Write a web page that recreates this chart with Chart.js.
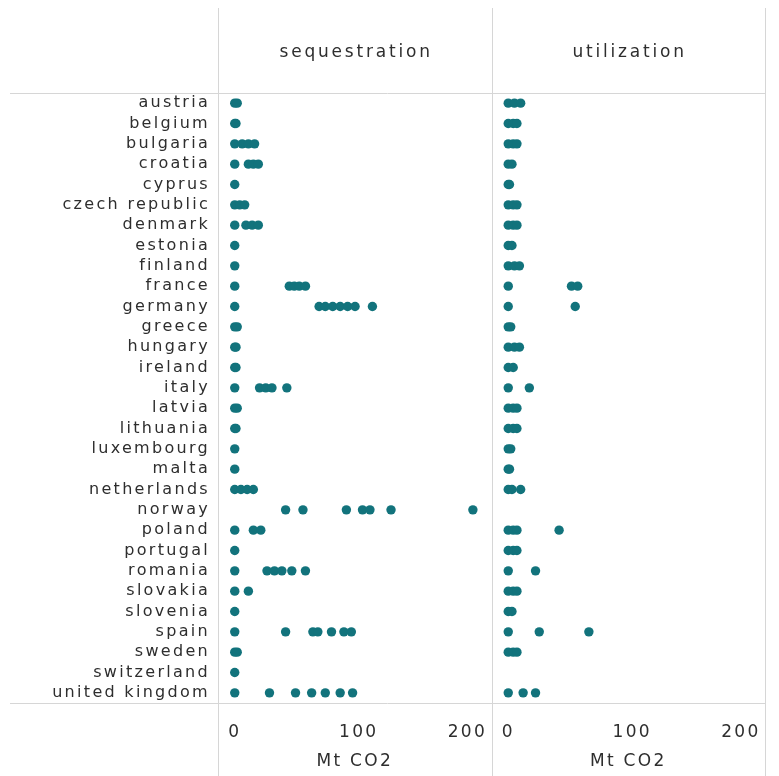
<!DOCTYPE html>
<html>
<head>
<meta charset="utf-8">
<script src="https://cdn.jsdelivr.net/npm/chart.js@4"></script>
<style>
  html, body { margin: 0; padding: 0; background: #ffffff; }
  #wrap { width: 779px; height: 776px; }
</style>
</head>
<body>
<div id="wrap"><canvas id="chart" width="779" height="776"></canvas></div>
<script>
// Countries, top to bottom
const countries = [
  'austria', 'belgium', 'bulgaria', 'croatia', 'cyprus', 'czech republic',
  'denmark', 'estonia', 'finland', 'france', 'germany', 'greece', 'hungary',
  'ireland', 'italy', 'latvia', 'lithuania', 'luxembourg', 'malta',
  'netherlands', 'norway', 'poland', 'portugal', 'romania', 'slovakia',
  'slovenia', 'spain', 'sweden', 'switzerland', 'united kingdom'
];

// Panel headers
const panels = ['sequestration', 'utilization'];

// Mt CO2 per scenario, one list per country (same order as countries)
const sequestrationValues = [
  [0, 2], [0, 1], [0, 6, 11, 16], [0, 11, 15, 19], [0], [0, 4, 8],
  [0, 9, 14, 19], [0], [0], [0, 44, 48, 52, 57],
  [0, 68, 73, 79, 85, 91, 97, 111], [0, 2], [0, 1], [0, 1],
  [0, 20, 25, 30, 42], [0, 2], [0, 1], [0], [0], [0, 5, 10, 15],
  [41, 55, 90, 103, 109, 126, 192], [0, 15, 21], [0],
  [0, 26, 32, 38, 46, 57], [0, 11], [0], [0, 41, 63, 67, 78, 88, 94],
  [0, 2], [0], [0, 28, 49, 62, 73, 85, 95]
];

const utilizationValues = [
  [0, 5, 10], [0, 4, 7], [0, 4, 7], [0, 3], [0, 1], [0, 4, 7],
  [0, 4, 7], [0, 3], [0, 5, 9], [0, 51, 56], [0, 54], [0, 2],
  [0, 5, 9], [0, 4], [0, 17], [0, 4, 7], [0, 4, 7], [0, 2], [0, 1],
  [0, 3, 10], [], [0, 4, 7, 41], [0, 4, 7], [0, 22], [0, 4, 7],
  [0, 3], [0, 25, 65], [0, 4, 7], [], [0, 12, 22]
];

// Shared value axis
const axisTitle = 'Mt CO2';
const axisMin = -13.5;
const axisMax = 207;
const tickStep = 100;

const TEXT = '#2e2e2e';
const DOT = '#12737c';
const LINE = '#d6d6d6';
const FONT = 'DejaVu Sans';

function toPoints(values) {
  const pts = [];
  values.forEach((row, i) => row.forEach(v => pts.push({ x: v, y: countries[i] })));
  return pts;
}

// Wide-set lettering for all chart text
const spacing = {
  id: 'spacing',
  beforeUpdate(chart) { chart.ctx.letterSpacing = '2.3px'; },
  beforeLayout(chart) { chart.ctx.letterSpacing = '2.3px'; },
  beforeDraw(chart) { chart.ctx.letterSpacing = '2.3px'; }
};

// Panel frame lines and panel headers
const frame = {
  id: 'frame',
  beforeDatasetsDraw(chart) {
    const { ctx, chartArea: a, scales } = chart;
    ctx.save();
    ctx.strokeStyle = LINE;
    ctx.lineWidth = 1;
    ctx.beginPath();
    [a.left, scales.x1.right, a.right].forEach(x => {
      const px = Math.round(x) + 0.5;
      ctx.moveTo(px, 8);
      ctx.lineTo(px, chart.height);
    });
    [a.top, a.bottom].forEach(y => {
      const py = Math.round(y) + 0.5;
      ctx.moveTo(10, py);
      ctx.lineTo(a.right, py);
    });
    ctx.stroke();

    ctx.fillStyle = TEXT;
    ctx.font = '17px "' + FONT + '"';
    ctx.letterSpacing = '2.8px';
    ctx.textAlign = 'center';
    ctx.textBaseline = 'middle';
    [scales.x1, scales.x2].forEach((s, i) => {
      ctx.fillText(panels[i], (s.left + s.right) / 2 + 1.4, 53);
    });
    ctx.restore();
  }
};

function valueAxis() {
  return {
    type: 'linear',
    position: 'bottom',
    stack: 'panels',
    stackWeight: 1,
    min: axisMin,
    max: axisMax,
    grid: { display: false, drawTicks: false },
    border: { display: false },
    ticks: {
      stepSize: tickStep,
      includeBounds: false,
      padding: 19,
      color: TEXT,
      font: { family: FONT, size: 17 },
      // keep the last label inside its panel
      callback(value, index, ticks) {
        return index === ticks.length - 1 ? value + '\u00A0\u00A0\u00A0\u00A0' : String(value);
      }
    },
    title: {
      display: true,
      text: axisTitle,
      color: TEXT,
      font: { family: FONT, size: 17 },
      padding: { top: 0, bottom: 4 }
    },
    afterFit(scale) {
      scale.height = 73;
      scale.paddingLeft = 0;
      scale.paddingRight = 0;
    }
  };
}

new Chart(document.getElementById('chart'), {
  type: 'scatter',
  data: {
    datasets: [
      {
        label: panels[0],
        data: toPoints(sequestrationValues),
        xAxisID: 'x1',
        yAxisID: 'y',
        backgroundColor: DOT,
        borderWidth: 0,
        pointRadius: 4.7
      },
      {
        label: panels[1],
        data: toPoints(utilizationValues),
        xAxisID: 'x2',
        yAxisID: 'y',
        backgroundColor: DOT,
        borderWidth: 0,
        pointRadius: 4.7
      }
    ]
  },
  options: {
    responsive: false,
    animation: false,
    devicePixelRatio: 1,
    layout: { padding: { top: 93, right: 14, left: 0, bottom: 0 } },
    plugins: {
      legend: { display: false },
      tooltip: { enabled: false }
    },
    scales: {
      x1: valueAxis(),
      x2: valueAxis(),
      y: {
        type: 'category',
        labels: countries,
        position: 'left',
        offset: true,
        grid: { display: false, drawTicks: false },
        border: { display: false },
        ticks: {
          autoSkip: false,
          padding: 8,
          color: TEXT,
          font: { family: FONT, size: 16 }
        },
        afterFit(scale) {
          scale.width = 218;
          scale.paddingTop = 0;
          scale.paddingBottom = 0;
        }
      }
    }
  },
  plugins: [spacing, frame]
});
</script>
</body>
</html>
